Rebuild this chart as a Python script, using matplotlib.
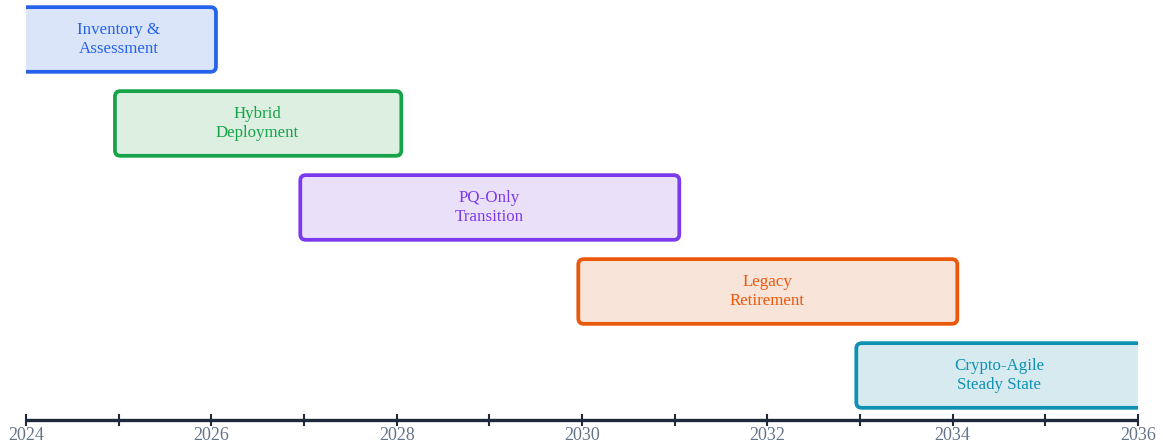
import matplotlib.pyplot as plt
from matplotlib.patches import FancyBboxPatch

# phases of the migration roadmap
phases = ["Inventory &\nAssessment", "Hybrid\nDeployment", "PQ-Only\nTransition",
          "Legacy\nRetirement", "Crypto-Agile\nSteady State"]
starts = [2024, 2025, 2027, 2030, 2033]
ends = [2026, 2028, 2031, 2034, 2036]
edge_colors = ["#2563eb", "#16a34a", "#7c3aed", "#ea580c", "#0e91b2"]
fill_colors = ["#dbe5f9", "#dcefe1", "#ebe0fa", "#f8e4d8", "#d6eaf0"]

XMIN, XMAX = 2024, 2036
major_years = list(range(2024, 2037, 2))
minor_years = list(range(2025, 2036, 2))

plt.rcParams["font.family"] = ["Liberation Serif", "DejaVu Serif"]

fig = plt.figure(figsize=(11.63, 4.45), dpi=100)
ax = fig.add_axes([26 / 1163, 25 / 445, (1138 - 26) / 1163, 420 / 445])

box_h = 0.77
for i, (name, s, e, ec, fc) in enumerate(zip(phases, starts, ends, edge_colors, fill_colors)):
    # boxes that touch the axis limits run past them and get clipped
    x0 = s - 0.25 if s <= XMIN else s - 0.04
    x1 = e + 0.25 if e >= XMAX else e + 0.05
    box = FancyBboxPatch((x0, i - box_h / 2), x1 - x0, box_h,
                         boxstyle="round,pad=0,rounding_size=0.06",
                         mutation_aspect=1.05,
                         facecolor=fc, edgecolor=ec, linewidth=2.7,
                         clip_on=True)
    ax.add_patch(box)
    cx = (max(s, XMIN) + min(e, XMAX)) / 2
    ax.text(cx, i, name, ha="center", va="center", color=ec,
            fontsize=12.2, linespacing=1.3)

ax.set_xlim(XMIN, XMAX)
ax.set_ylim(len(phases) - 0.47, -0.47)

for side in ["top", "left", "right"]:
    ax.spines[side].set_visible(False)
ax.spines["bottom"].set_color("#1e293b")
ax.spines["bottom"].set_linewidth(2.4)
ax.spines["bottom"].set_capstyle("butt")

ax.set_yticks([])
ax.set_xticks(major_years)
ax.set_xticklabels([str(y) for y in major_years])
ax.set_xticks(minor_years, minor=True)
ax.tick_params(axis="x", which="both", direction="inout", length=9, width=1.5,
               color="#1e293b", labelcolor="#64748b", labelsize=13, pad=0.5)

fig.savefig("out.png", dpi=100)
